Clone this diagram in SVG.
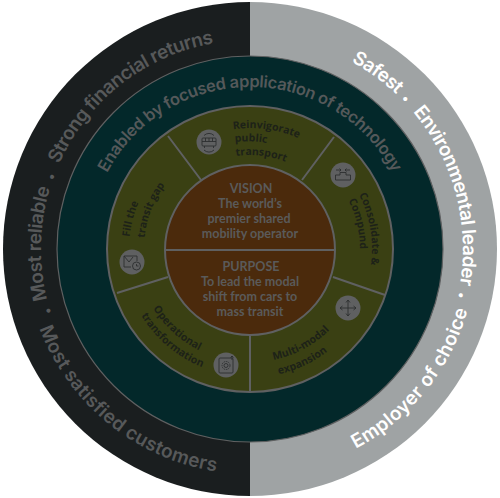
<svg xmlns="http://www.w3.org/2000/svg" width="500" height="498" viewBox="0 0 500 498">
<style>
.ln{stroke:#5f6061;fill:none}
.ot{font:600 19px Inter,Lato,sans-serif}
.d{fill:#57595a}.w{fill:#fff}
.tt{font:600 16.500px Inter,Lato,sans-serif;fill:#55595a}
.sg{font:700 10.500px "Open Sans",sans-serif;fill:#1d2218}
.c{font:700 12.500px Lato,"Open Sans",sans-serif;fill:#5a5a5a;text-anchor:middle}
.ic{fill:#5f6061}
.is{fill:none;stroke:#2c2f30;stroke-width:.9}
.bl{text-anchor:middle;font-size:13px}
</style>
<defs>
<path id="a1" d="M47.200 299.600A209 209 0 0 1 69 144.500"/>
<path id="a1b" d="M59.100 164A209 209 0 0 1 231.800 40.800"/>
<path id="b1" d="M50.100 195.400A207 207 0 0 1 62.400 161.500"/>
<path id="b2" d="M58.100 326.500A207 207 0 0 1 47.500 292"/>
<path id="a2" d="M39.500 328.500A225 225 0 0 0 250 474"/>
<path id="a3" d="M351.300 61.600A213 213 0 0 1 403.200 101"/>
<path id="b3" d="M389.100 89A212 212 0 0 1 414.800 115.600"/>
<path id="a3b" d="M412.900 111.800A213 213 0 0 1 455.700 304.100"/>
<path id="b4" d="M460.200 276.300A212 212 0 0 1 452.300 312.400"/>
<path id="a4" d="M355.800 448.700A226 226 0 0 0 472.600 288.200"/>
<path id="a5" d="M107 172.900A162 162 0 0 1 398 183.100"/>
<path id="s1" d="M233.200 129.200A121 121 0 0 1 342.700 171.200"/>
<path id="s2" d="M235 142A108 108 0 0 1 330 180"/>
<path id="s3" d="M236.100 156A94 94 0 0 1 316.500 182.500"/>
<path id="s4" d="M359 194.500A122 122 0 0 1 372 249A122 122 0 0 1 365 290"/>
<path id="s5" d="M348.400 200.200A110 110 0 0 1 360 249"/>
<path id="s6" d="M129.500 237A121 121 0 0 1 190 145"/>
<path id="s7" d="M144.500 238A106 106 0 0 1 200 155"/>
<path id="s8" d="M153.200 308.300A113.500 113.500 0 0 0 250 362.500"/>
<path id="s9" d="M141.200 315.500A127.500 127.500 0 0 0 250 376.500"/>
<path id="s10" d="M273.600 360A113.500 113.500 0 0 0 363.500 249"/>
<path id="s11" d="M278.900 374.200A128.500 128.500 0 0 0 378.500 249"/>
</defs>
<g id="outer-ring">
<path d="M250 2A247 247 0 0 0 250 496Z" fill="#1a1e1f"/>
<path d="M250 2A247 247 0 0 1 250 496Z" fill="#9fa3a4"/>
</g>
<g id="technology-ring"><circle cx="250" cy="249" r="193" fill="#03282a" stroke="#5f6061" stroke-width="1.200"/></g>
<g id="strategy-ring"><circle cx="250" cy="249" r="143" fill="#3a4013" stroke="#5f6061" stroke-width="2"/></g>
<g id="connectors">
<path class="ln" stroke-width="2" d="M168 136L201 180M334 137L302 180M117 293L168 277M385 295L333 277M250 335V392"/>
</g>
<g id="core"><circle cx="250" cy="250" r="85" fill="#4b2a0c" stroke="#5f6061" stroke-width="2"/><path class="ln" stroke-width="2" d="M165 250H335"/>
<text class="c" x="251" y="193">VISION</text><text class="c" x="250" y="208">The world’s</text><text class="c" x="249" y="223">premier shared</text><text class="c" x="250" y="238">mobility operator</text>
<text class="c" x="251" y="271">PURPOSE</text><text class="c" x="250" y="286">To lead the modal</text><text class="c" x="250" y="301">shift from cars to</text><text class="c" x="250" y="316">mass transit</text>
</g>
<g id="outer-labels">
<text class="ot d"><textPath href="#a1" textLength="113">Most reliable</textPath></text>
<text class="ot d bl"><textPath href="#b1" startOffset="50%">•</textPath></text>
<text class="ot d"><textPath href="#a1b" textLength="204">Strong financial returns</textPath></text>
<text class="ot d bl"><textPath href="#b2" startOffset="50%">•</textPath></text>
<text class="ot d"><textPath href="#a2" textLength="238">Most satisfied customers</textPath></text>
<text class="ot w"><textPath href="#a3" textLength="56">Safest</textPath></text>
<text class="ot w bl"><textPath href="#b3" startOffset="50%">•</textPath></text>
<text class="ot w"><textPath href="#a3b" textLength="185">Environmental leader</textPath></text>
<text class="ot w bl"><textPath href="#b4" startOffset="50%">•</textPath></text>
<text class="ot w"><textPath href="#a4" textLength="183">Employer of choice</textPath></text>
</g>
<g id="technology-label"><text class="tt"><textPath href="#a5" textLength="350">Enabled by focused application of technology</textPath></text></g>
<g id="seg-reinvigorate"><circle class="ic" cx="209" cy="142" r="12.500"/>
<g class="is"><rect x="202" y="138" width="14" height="8" rx="1"/><path d="M202 141.500H216M205.500 138V141.500M209 138V141.500M212.500 138V141.500M204.500 146V148M213.500 146V148M204 135.500A7 7 0 0 1 214 135.500M204 150A7 7 0 0 0 214 150"/></g>
<text class="sg"><textPath href="#s1">Reinvigorate</textPath></text><text class="sg"><textPath href="#s2">public</textPath></text><text class="sg"><textPath href="#s3">transport</textPath></text></g>
<g id="seg-consolidate"><circle class="ic" cx="343" cy="175" r="12.500"/>
<g class="is"><path d="M336 170H341M339.500 168.500L341 170L339.500 171.500M350 170H345M346.500 168.500L345 170L346.500 171.500M335.500 180V175H340V172.500H346V175H350.500V180Z"/></g>
<text class="sg"><textPath href="#s4">Consolidate &amp;</textPath></text><text class="sg"><textPath href="#s5">Compund</textPath></text></g>
<g id="seg-fill"><circle class="ic" cx="132" cy="262" r="12.500"/>
<g class="is"><path d="M124 256H137V261M124 256V267H131M124 256L129 262L133 257"/><circle cx="136.500" cy="266" r="4"/><path d="M136.500 264V266H138.500"/></g>
<text class="sg"><textPath href="#s6">Fill the</textPath></text><text class="sg"><textPath href="#s7">transit gap</textPath></text></g>
<g id="seg-operational"><circle class="ic" cx="226" cy="365" r="12.500"/>
<g class="is"><rect x="219" y="358" width="14" height="15" rx="1"/><circle cx="226" cy="365.500" r="2"/><circle cx="226" cy="365.500" r="4" stroke-dasharray="1.500 .8"/><path d="M232 356V360M230.500 357.500L232 356L233.500 357.500"/></g>
<text class="sg"><textPath href="#s8">Operational</textPath></text><text class="sg"><textPath href="#s9">transformation</textPath></text></g>
<g id="seg-multimodal"><circle class="ic" cx="348" cy="308" r="12.500"/>
<g class="is"><path d="M348 300V316M340 308H356M346 302.500L348 300L350 302.500M346 313.500L348 316L350 313.500M342.500 306L340 308L342.500 310M353.500 306L356 308L353.500 310"/></g>
<text class="sg"><textPath href="#s10">Multi-modal</textPath></text><text class="sg"><textPath href="#s11">expansion</textPath></text></g>
</svg>
